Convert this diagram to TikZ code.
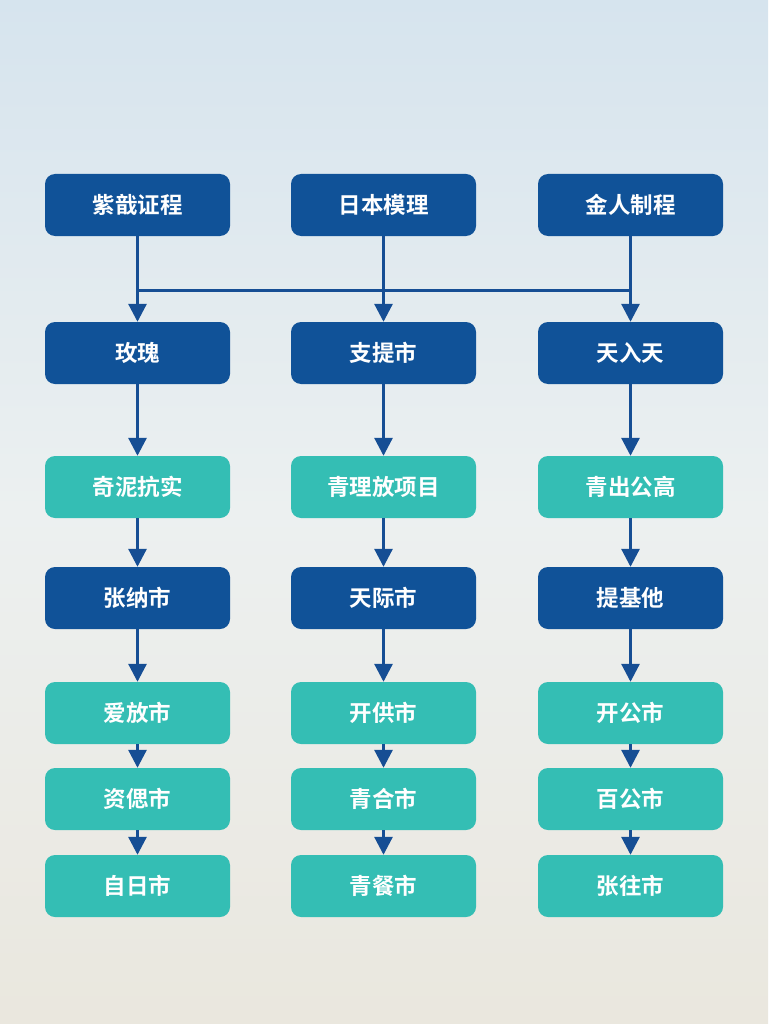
\documentclass[tikz,border=0pt]{standalone}
\usepackage{fontspec}
\newfontfamily\cjk{Noto Sans CJK SC}[BoldFont={Noto Sans CJK SC Bold}]
\usetikzlibrary{arrows.meta}
\definecolor{navy}{RGB}{16,82,152}
\definecolor{teal2}{RGB}{52,190,180}
\definecolor{arr}{RGB}{22,78,148}
\definecolor{skytop}{RGB}{214,228,238}
\definecolor{skymid}{RGB}{236,240,240}
\definecolor{skybot}{RGB}{234,231,222}
\tikzset{
  box/.style={rounded corners=10pt, minimum width=185pt, minimum height=62pt, inner sep=0pt,
    text=white, font=\cjk\bfseries\fontsize{22.5}{26}\selectfont},
  darkbox/.style={box, fill=navy},
  lightbox/.style={box, fill=teal2},
  link/.style={draw=arr, line width=3pt},
  flow/.style={link, -{Triangle[width=18pt,length=18pt]}},
}
\begin{document}
\begin{tikzpicture}[x=1pt,y=-1pt]
\useasboundingbox (0,0) rectangle (768,1024);
\shade[top color=skytop, bottom color=skymid] (0,0) rectangle (768,512);
\shade[top color=skymid, bottom color=skybot] (0,512) rectangle (768,1024);
\node[darkbox] (a1) at (137.5,205) {紫戠证程};
\node[darkbox] (b1) at (383.5,205) {日本模理};
\node[darkbox] (c1) at (630.5,205) {金人制程};
\node[darkbox] (a2) at (137.5,353) {玫瑰};
\node[darkbox] (b2) at (383.5,353) {支提市};
\node[darkbox] (c2) at (630.5,353) {天入天};
\node[lightbox] (a3) at (137.5,487) {奇泥抗实};
\node[lightbox] (b3) at (383.5,487) {青理放项目};
\node[lightbox] (c3) at (630.5,487) {青出公高};
\node[darkbox] (a4) at (137.5,598) {张纳市};
\node[darkbox] (b4) at (383.5,598) {天际市};
\node[darkbox] (c4) at (630.5,598) {提基他};
\node[lightbox] (a5) at (137.5,713) {爱放市};
\node[lightbox] (b5) at (383.5,713) {开供市};
\node[lightbox] (c5) at (630.5,713) {开公市};
\node[lightbox] (a6) at (137.5,799) {资偲市};
\node[lightbox] (b6) at (383.5,799) {青合市};
\node[lightbox] (c6) at (630.5,799) {百公市};
\node[lightbox] (a7) at (137.5,886) {自日市};
\node[lightbox] (b7) at (383.5,886) {青餐市};
\node[lightbox] (c7) at (630.5,886) {张往市};
% bus
\coordinate (busa) at (a1.south |- 0,290);
\coordinate (busc) at (c1.south |- 0,290);
\draw[link] (busa) -- (busc);
\foreach \c in {a,b,c} {
  \draw[flow] (\c1.south) -- (\c2.north);
  \draw[flow] (\c2.south) -- (\c3.north);
  \draw[flow] (\c3.south) -- (\c4.north);
  \draw[flow] (\c4.south) -- (\c5.north);
  \draw[flow] (\c5.south) -- (\c6.north);
  \draw[flow] (\c6.south) -- (\c7.north);
}
\end{tikzpicture}
\end{document}
